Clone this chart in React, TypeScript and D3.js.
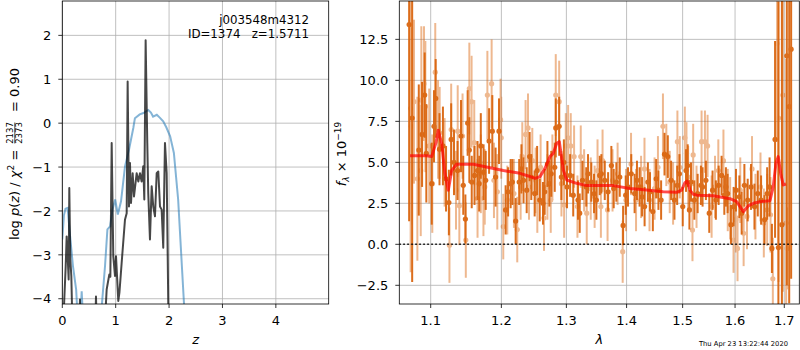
import React from "react";
import * as d3 from "d3";

const W = 800;
const H = 350;

// ---- p(z) panel data ----
const chiZ = [0, 0.03, 0.06, 0.1, 0.14, 0.2, 0.26, 0.29, 0.34, 0.363, 0.39, 0.7, 0.737, 0.8, 0.845, 0.895, 0.94, 0.99, 1.04, 1.1, 1.174, 1.25, 1.33, 1.36, 1.45, 1.52, 1.61, 1.66, 1.7, 1.77, 1.83, 1.89, 1.95, 2.02, 2.09, 2.17, 2.24, 2.28, 2.32];
const chiLogp = [-2.65, -2.1, -1.95, -1.93, -2.5, -3.26, -3.8, -4.5, -4.5, -3.83, -4.5, -5, -4.2, -3.26, -2.42, -2.35, -1.97, -1.74, -2.08, -1.78, -0.99, -0.6, -0.11, 0.11, 0.2, 0.23, 0.3, 0.24, 0.15, 0.19, 0.12, 0.04, -0.1, -0.3, -0.68, -1.74, -3.26, -4.12, -5];

const pzZ = [0.02, 0.0637, 0.0818, 0.1, 0.119, 0.131, 0.15, 0.169, 0.188, 0.32, 0.331, 0.342, 0.62, 0.631, 0.642, 0.8, 0.831, 0.88, 0.9, 0.925, 0.955, 0.987, 1.006, 1.049, 1.07, 1.112, 1.174, 1.206, 1.224, 1.249, 1.268, 1.287, 1.318, 1.343, 1.393, 1.424, 1.455, 1.486, 1.517, 1.536, 1.561, 1.592, 1.61, 1.642, 1.674, 1.704, 1.736, 1.768, 1.798, 1.83, 1.861, 1.891, 1.923, 1.955, 1.985, 2.0];
const pzLogp = [-4.5, -3.26, -2.58, -3.03, -3.56, -1.48, -3.1, -3.48, -4.5, -4.5, -4.02, -4.5, -4.5, -3.95, -4.5, -4.5, -3.79, -3.45, -3.5, -0.45, -3.03, -3.48, -3.03, -4.05, -3.86, -3.18, -2.2, -2.05, 0.95, -1.9, -0.91, -1.82, -1.14, -1.67, -1.14, -1.33, -1.14, -1.33, -0.98, -1.74, 1.89, -0.45, -1.59, -2.65, -1.44, -1.9, -2.12, -1.14, -1.1, -1.9, -1.97, -2.84, -0.45, -1.14, -4.1, -4.6];

const zTicks = [0, 1, 2, 3, 4];
const pzTicks = [-4, -3, -2, -1, 0, 1, 2];

// ---- spectrum panel data ----
const darkLam = [1.0712, 1.0752, 1.084, 1.0884, 1.0919, 1.0941, 1.1014, 1.1045, 1.1068, 1.112, 1.1167, 1.121, 1.1249, 1.1281, 1.132, 1.137, 1.1418, 1.145, 1.148, 1.1512, 1.1536, 1.157, 1.161, 1.1653, 1.1677, 1.17, 1.174, 1.1771, 1.182, 1.1867, 1.1915, 1.1965, 1.2063, 1.21, 1.2138, 1.2163, 1.2213, 1.2266, 1.23, 1.2332, 1.238, 1.2425, 1.245, 1.2502, 1.254, 1.258, 1.2631, 1.2657, 1.27, 1.273, 1.276, 1.2815, 1.2831, 1.2885, 1.292, 1.296, 1.301, 1.306, 1.311, 1.3187, 1.3215, 1.326, 1.3322, 1.3351, 1.3405, 1.345, 1.3489, 1.3545, 1.3572, 1.3629, 1.3685, 1.374, 1.378, 1.3825, 1.3883, 1.394, 1.3985, 1.4024, 1.4081, 1.4139, 1.418, 1.4226, 1.427, 1.4314, 1.4372, 1.441, 1.446, 1.4519, 1.456, 1.4608, 1.4669, 1.4729, 1.4789, 1.485, 1.49, 1.4941, 1.5002, 1.5063, 1.5094, 1.5126, 1.5155, 1.5218, 1.528, 1.5342, 1.5373, 1.5436, 1.55, 1.5563, 1.5627, 1.568, 1.5737, 1.579, 1.5821, 1.5854, 1.5919, 1.5972, 1.6018, 1.6085, 1.6131, 1.6185, 1.6251, 1.6318, 1.6387, 1.6454, 1.6521, 1.6591, 1.6645, 1.6695, 1.6743, 1.6808, 1.6877, 1.695, 1.7053, 1.7103, 1.7144];
const darkFlux = [13.4, 7.7, 5.75, 6.7, 9.1, 5.55, 3.7, 7.2, 8.9, 5.8, 6.0, 4.0, 2.55, 6.4, 5.0, 4.5, 6.6, 3.6, 1.54, 7.4, 5.75, 3.8, 4.2, 4.5, 3.7, 6.0, 4.4, 3.9, 6.3, 6.9, 4.1, 6.9, 2.1, 3.2, 3.7, 3.8, 1.42, 3.8, 4.6, 3.9, 3.3, 5.35, 4.1, 3.1, 4.5, 2.7, 2.5, 3.2, 4.9, 3.7, 4.3, 4.7, 7.1, 7.2, 4.1, 5.0, 3.5, 4.2, 3.0, 2.7, 1.9, 3.9, 3.5, 4.3, 3.8, 3.1, 2.7, 4.2, 4.3, 3.9, 3.2, 4.8, 3.4, 3.8, 4.1, 1.15, 3.0, 3.5, 4.3, 3.1, 3.9, 3.5, 2.9, 2.3, 3.8, 3.2, 2.0, 4.0, 3.3, 2.7, 5.5, 5.35, 3.9, 2.7, 3.6, 4.3, 2.3, 4.5, 4.8, 2.1, 3.8, 2.7, 3.1, 3.6, 3.5, 3.9, 1.9, 3.3, 2.7, 3.6, 4.2, 3.0, 3.5, 3.1, 1.2, 2.3, 3.3, 2.9, 1.9, 3.6, 2.7, 3.5, 2.3, 3.1, 2.7, 1.5, 3.1, 3.5, -0.25, 6.4, -0.2, 1.2, 11.5, 8.4, 11.9];
const darkErr = [12, 10, 4, 3.2, 2.6, 3, 2.5, 2.2, 2.4, 2.2, 2.4, 2.0, 2.0, 2.2, 2.0, 1.8, 2.2, 1.8, 1.5, 2.0, 2.0, 1.6, 1.8, 1.8, 1.7, 2.0, 1.7, 1.8, 2.0, 2.2, 1.8, 2.0, 1.5, 1.5, 1.5, 1.4, 1.4, 1.4, 1.5, 1.4, 1.4, 1.5, 1.4, 1.4, 1.5, 1.3, 1.3, 1.4, 1.4, 1.4, 1.4, 1.5, 1.8, 1.8, 1.4, 1.4, 1.3, 1.3, 1.3, 1.2, 1.2, 1.2, 1.2, 1.2, 1.2, 1.2, 1.2, 1.2, 1.2, 1.2, 1.2, 1.2, 1.2, 1.2, 1.2, 1.2, 1.2, 1.2, 1.2, 1.2, 1.2, 1.2, 1.2, 1.2, 1.2, 1.2, 1.2, 1.2, 1.2, 1.2, 1.3, 1.3, 1.2, 1.2, 1.2, 1.2, 1.2, 1.3, 1.3, 1.2, 1.2, 1.2, 1.2, 1.2, 1.2, 1.2, 1.2, 1.2, 1.2, 1.2, 1.2, 1.2, 1.2, 1.2, 1.2, 1.2, 1.3, 1.3, 1.3, 1.3, 1.3, 1.4, 1.4, 1.4, 1.5, 1.5, 1.6, 1.8, 1.5, 6, 15, 14, 14, 12, 14];

const lightLam = [1.0732, 1.074, 1.0776, 1.0821, 1.0866, 1.0874, 1.091, 1.0928, 1.098, 1.1022, 1.1062, 1.11, 1.1122, 1.119, 1.1257, 1.1281, 1.1348, 1.1372, 1.1395, 1.144, 1.1486, 1.1536, 1.1568, 1.1606, 1.1653, 1.17, 1.1738, 1.1757, 1.1795, 1.1857, 1.1891, 1.194, 1.1988, 1.1998, 1.2028, 1.2088, 1.2187, 1.2237, 1.2288, 1.2313, 1.2363, 1.24, 1.2415, 1.2466, 1.2517, 1.2543, 1.2594, 1.2647, 1.27, 1.2752, 1.2778, 1.2831, 1.2885, 1.2921, 1.2964, 1.299, 1.3028, 1.307, 1.3124, 1.3178, 1.3232, 1.3287, 1.333, 1.3396, 1.346, 1.3508, 1.3564, 1.3592, 1.3676, 1.376, 1.3846, 1.3933, 1.399, 1.4077, 1.4164, 1.4252, 1.4312, 1.4401, 1.4491, 1.4551, 1.4641, 1.4702, 1.4764, 1.4825, 1.4904, 1.4948, 1.5041, 1.5071, 1.5102, 1.5183, 1.5196, 1.5259, 1.5354, 1.5418, 1.5468, 1.5545, 1.561, 1.5674, 1.5773, 1.5857, 1.5904, 1.597, 1.6016, 1.6049, 1.6103, 1.617, 1.6237, 1.6338, 1.6407, 1.6509, 1.6577, 1.6645, 1.6714, 1.6762, 1.685, 1.688, 1.697, 1.7039, 1.706];
const lightFlux = [8.3, 7.2, 8.7, 4.0, 4.5, 8.8, 9.8, 8.4, 6.0, 3.7, 10.5, 7.0, 6.8, 5.0, -0.05, 7.0, 3.3, 6.9, 2.35, 6.6, 0.26, 9.5, 8.7, 6.2, 2.8, 4.3, 2.8, 3.5, 9.1, 9.8, 3.9, 3.2, 7.6, 6.5, 1.08, 2.7, 3.1, 0.9, 3.5, 5.35, 6.7, 7.1, 3.5, 5.1, 3.9, 2.7, 4.7, 1.6, 3.5, 2.7, 4.7, 9.1, 8.7, 3.7, 2.4, 6.0, 6.5, 6.0, 5.35, 2.3, 5.35, 3.9, 1.9, 3.4, 2.9, 4.5, 2.3, 5.1, 2.1, 3.9, 4.3, -0.45, 2.7, 4.9, 2.7, 3.5, 4.6, 2.7, 3.4, 4.7, 7.2, 5.45, 3.8, 3.1, 6.26, 4.7, 6.5, 5.55, 4.1, 0.87, 5.45, 2.9, 6.26, 6.26, 6.0, 2.3, 3.5, 4.5, 5.1, 2.7, 2.2, 0.26, 1.5, -0.25, 3.3, 0.67, 1.7, 4.6, 2.3, 3.5, 1.3, 2.1, 1.8, -2.1, 12.25, 7.7, 9.1, 1.3, -0.25];
const lightErr = [10, 6, 5, 5, 4, 4.5, 3.5, 4, 3.5, 3, 3, 3, 2.8, 2.7, 2.3, 2.8, 2.4, 2.8, 2.4, 2.6, 2.3, 2.8, 2.8, 2.6, 2.4, 2.4, 2.3, 2.3, 2.7, 2.7, 2.3, 2.3, 2.5, 2.5, 2.0, 2.1, 2.1, 2.0, 2.0, 2.1, 2.1, 2.1, 2.0, 2.0, 2.0, 2.0, 2.0, 2.0, 2.0, 2.0, 2.0, 2.5, 2.5, 2.0, 2.0, 2.0, 2.0, 2.0, 1.9, 1.9, 1.9, 1.9, 1.9, 1.9, 1.9, 1.9, 1.9, 1.9, 1.9, 1.9, 1.9, 1.9, 1.9, 1.9, 1.9, 1.9, 1.9, 1.9, 1.9, 1.9, 2.0, 1.9, 1.9, 1.9, 1.9, 1.9, 1.9, 1.9, 1.9, 1.9, 1.9, 1.9, 1.9, 1.9, 1.9, 1.9, 1.9, 1.9, 1.9, 1.9, 1.9, 2.0, 2.0, 2.0, 2.0, 2.0, 2.0, 2.0, 2.0, 2.1, 2.1, 2.2, 2.3, 2.5, 6, 10, 12, 10, 2.5];

const modelLam = [1.0723, 1.0946, 1.1014, 1.1072, 1.1103, 1.115, 1.1195, 1.1241, 1.1288, 1.1358, 1.1593, 1.1833, 1.2029, 1.2278, 1.2404, 1.2507, 1.2584, 1.2662, 1.274, 1.2792, 1.2846, 1.2887, 1.2914, 1.2951, 1.3005, 1.3166, 1.3329, 1.3773, 1.4058, 1.435, 1.4646, 1.489, 1.4982, 1.5043, 1.5086, 1.5136, 1.5198, 1.5262, 1.5577, 1.59, 1.6032, 1.6163, 1.6263, 1.6363, 1.6498, 1.6702, 1.677, 1.6826, 1.6874, 1.6924, 1.6978, 1.7035];
const modelFlux = [5.4, 5.4, 5.35, 6.2, 6.95, 6.15, 4.3, 3.3, 4.5, 4.88, 4.88, 4.67, 4.5, 4.33, 4.17, 4.02, 4.13, 4.63, 5.35, 5.55, 6.16, 6.26, 5.55, 4.53, 3.92, 3.72, 3.58, 3.58, 3.41, 3.31, 3.21, 3.17, 3.31, 3.76, 3.86, 3.31, 3.05, 3.0, 2.96, 2.78, 2.6, 1.99, 2.34, 2.5, 2.6, 2.66, 3.5, 4.94, 5.35, 4.33, 3.62, 3.68];

const lamTicks = [1.1, 1.2, 1.3, 1.4, 1.5, 1.6, 1.7];
const fluxTicks = [-2.5, 0, 2.5, 5, 7.5, 10, 12.5];

const FONT = "DejaVu Sans, sans-serif";
const GRID = "#b0b0b0";
const ORANGE = "#d9620a";
const minus = (s: string) => s.replace("-", "\u2212");

const L = { x0: 62.3, x1: 328.7, y0: 1, y1: 304 };
const R = { x0: 399.3, x1: 799.3, y0: 1, y1: 304 };

export default function App() {
  const zx = d3.scaleLinear().domain([0, 4.99]).range([L.x0, L.x1]);
  const zy = d3.scaleLinear().domain([-4.12, 2.783]).range([L.y1, L.y0]);
  const lx = d3.scaleLog().domain([1.0583, 1.7317]).range([R.x0, R.x1]);
  const fy = d3.scaleLinear().domain([-3.64, 14.84]).range([R.y1, R.y0]);

  const chiLine = d3.line<number>().x((_, i) => zx(chiZ[i])).y((d) => zy(d));
  const pzLine = d3.line<number>().x((_, i) => zx(pzZ[i])).y((d) => zy(d));
  const modelLine = d3.line<number>().x((_, i) => lx(modelLam[i])).y((d) => fy(d));

  const errbars = (lam: number[], flux: number[], err: number[], op: number) => (
    <g opacity={op}>
      {lam.map((l, i) => (
        <line key={"e" + i} x1={lx(l)} x2={lx(l)} y1={fy(flux[i] - err[i])} y2={fy(flux[i] + err[i])} stroke={ORANGE} strokeWidth={2} />
      ))}
      {lam.map((l, i) => (
        <circle key={"c" + i} cx={lx(l)} cy={fy(flux[i])} r={2.6} fill={ORANGE} />
      ))}
    </g>
  );

  return (
    <svg width={W} height={H} style={{ position: "absolute", left: 0, top: 0 }} fontFamily={FONT}>
      <defs>
        <clipPath id="clipL"><rect x={L.x0} y={L.y0} width={L.x1 - L.x0} height={L.y1 - L.y0} /></clipPath>
        <clipPath id="clipR"><rect x={R.x0} y={R.y0} width={R.x1 - R.x0} height={R.y1 - R.y0} /></clipPath>
      </defs>
      <rect width={W} height={H} fill="#fff" />

      {/* ---- left panel ---- */}
      <g>
        {zTicks.map((t) => (
          <line key={"gz" + t} x1={zx(t)} x2={zx(t)} y1={L.y0} y2={L.y1} stroke={GRID} strokeWidth={0.8} />
        ))}
        {pzTicks.map((t) => (
          <line key={"gp" + t} x1={L.x0} x2={L.x1} y1={zy(t)} y2={zy(t)} stroke={GRID} strokeWidth={0.8} />
        ))}
        <g clipPath="url(#clipL)">
          <path d={chiLine(chiLogp) || ""} fill="none" stroke="#1f77b4" strokeOpacity={0.55} strokeWidth={2} />
          <path d={pzLine(pzLogp) || ""} fill="none" stroke="#000" strokeOpacity={0.72} strokeWidth={2} strokeLinejoin="round" />
        </g>
        <rect x={L.x0} y={L.y0} width={L.x1 - L.x0} height={L.y1 - L.y0} fill="none" stroke="#000" strokeWidth={0.8} />
        {zTicks.map((t) => (
          <g key={"tz" + t}>
            <line x1={zx(t)} x2={zx(t)} y1={L.y1} y2={L.y1 + 4} stroke="#000" strokeWidth={0.8} />
            <text x={zx(t)} y={325} fontSize={13} textAnchor="middle">{t}</text>
          </g>
        ))}
        {pzTicks.map((t) => (
          <g key={"tp" + t}>
            <line x1={L.x0 - 4} x2={L.x0} y1={zy(t)} y2={zy(t)} stroke="#000" strokeWidth={0.8} />
            <text x={L.x0 - 11} y={zy(t) + 4.7} fontSize={13} textAnchor="end">{minus(String(t))}</text>
          </g>
        ))}
        <text x={309} y={24.3} fontSize={11.8} textAnchor="end">j003548m4312</text>
        <text x={309} y={37.7} fontSize={11.8} textAnchor="end" xmlSpace="preserve">{"ID=1374   z=1.5711"}</text>
        <text x={zx(2.5)} y={343.5} fontSize={13} textAnchor="middle" fontStyle="italic">z</text>
        <g transform="translate(19,154) rotate(-90)" fontSize={13}>
          <text x={-86} y={0}>
            log <tspan fontStyle="italic">p</tspan>(<tspan fontStyle="italic">z</tspan>) / <tspan fontStyle="italic">χ</tspan>
            <tspan fontSize={9} dy={-5}>2</tspan><tspan dy={5}> =</tspan>
          </text>
          <text x={21} y={-5.6} fontSize={8.5} textAnchor="middle">2137</text>
          <line x1={10.5} x2={31.5} y1={-4.2} y2={-4.2} stroke="#000" strokeWidth={0.7} />
          <text x={21} y={3.4} fontSize={8.5} textAnchor="middle">2373</text>
          <text x={86} y={0} textAnchor="end">= 0.90</text>
        </g>
      </g>

      {/* ---- right panel ---- */}
      <g>
        {lamTicks.map((t) => (
          <line key={"gl" + t} x1={lx(t)} x2={lx(t)} y1={R.y0} y2={R.y1} stroke={GRID} strokeWidth={0.8} />
        ))}
        {fluxTicks.map((t) => (
          <line key={"gf" + t} x1={R.x0} x2={R.x1} y1={fy(t)} y2={fy(t)} stroke={GRID} strokeWidth={0.8} />
        ))}
        <g clipPath="url(#clipR)">
          {errbars(lightLam, lightFlux, lightErr, 0.45)}
          {errbars(darkLam, darkFlux, darkErr, 0.92)}
          <line x1={R.x0} x2={R.x1} y1={fy(0)} y2={fy(0)} stroke="#000" strokeWidth={1.5} strokeDasharray="1.5,2.5" />
          <path d={modelLine(modelFlux) || ""} fill="none" stroke="#ff0000" strokeOpacity={0.7} strokeWidth={3} strokeLinejoin="round" />
        </g>
        <rect x={R.x0} y={R.y0} width={R.x1 - R.x0} height={R.y1 - R.y0} fill="none" stroke="#000" strokeWidth={0.8} />
        {lamTicks.map((t) => (
          <g key={"tl" + t}>
            <line x1={lx(t)} x2={lx(t)} y1={R.y1} y2={R.y1 + 4} stroke="#000" strokeWidth={0.8} />
            <text x={lx(t)} y={325} fontSize={13} textAnchor="middle">{t.toFixed(1)}</text>
          </g>
        ))}
        {fluxTicks.map((t) => (
          <g key={"tf" + t}>
            <line x1={R.x0 - 4} x2={R.x0} y1={fy(t)} y2={fy(t)} stroke="#000" strokeWidth={0.8} />
            <text x={R.x0 - 11} y={fy(t) + 4.7} fontSize={13} textAnchor="end">{minus(t.toFixed(1))}</text>
          </g>
        ))}
        <text x={(R.x0 + R.x1) / 2} y={344} fontSize={13} textAnchor="middle" fontStyle="italic">λ</text>
        <g transform="translate(346,154) rotate(-90)" fontSize={13}>
          <text x={0} y={0} textAnchor="middle">
            <tspan fontStyle="italic">f</tspan><tspan fontSize={9} dy={3} fontStyle="italic">λ</tspan>
            <tspan dy={-3}> × 10</tspan><tspan fontSize={9} dy={-5.5}>{"\u221219"}</tspan>
          </text>
        </g>
        <text x={788} y={345.5} fontSize={6.75} textAnchor="end">Thu Apr 23 13:22:44 2020</text>
      </g>
    </svg>
  );
}
